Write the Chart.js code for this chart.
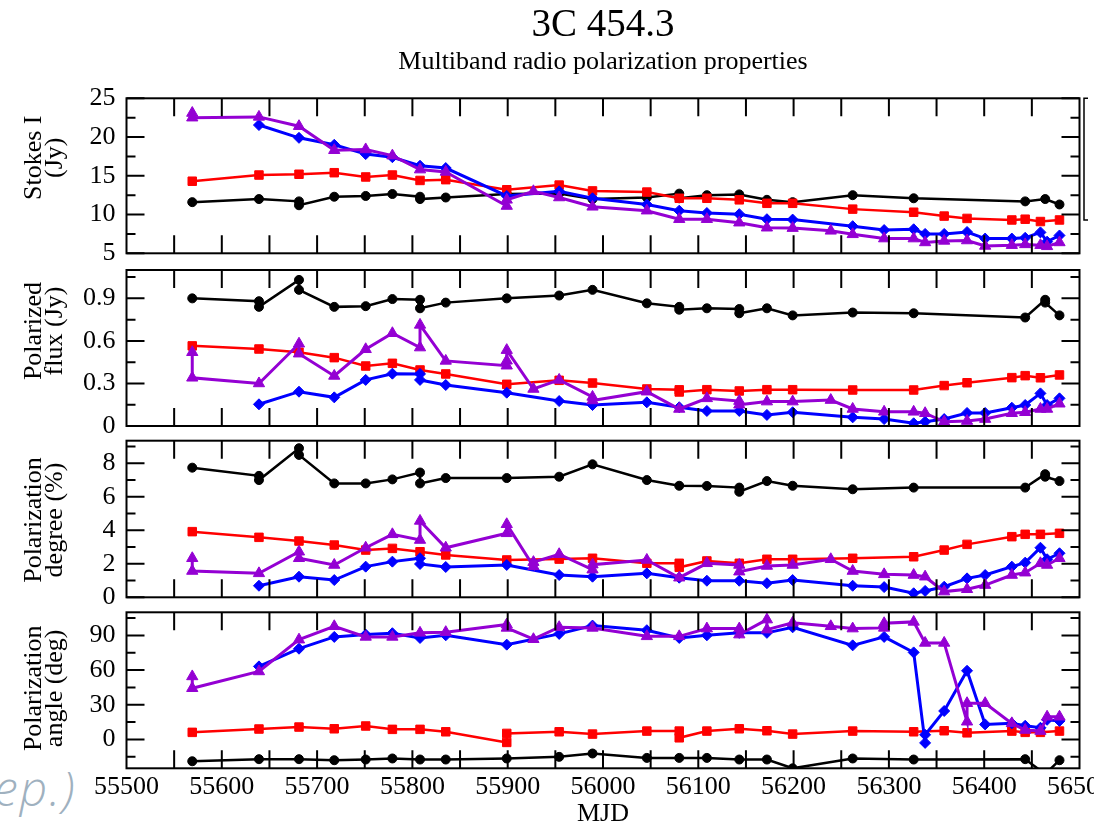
<!DOCTYPE html>
<html>
<head>
<meta charset="utf-8">
<title>3C 454.3 polarization</title>
<script src="https://cdn.jsdelivr.net/npm/chart.js@4.4.0/dist/chart.umd.min.js"></script>
<style>
  html, body { margin: 0; padding: 0; background: #fff; }
  #page { position: relative; width: 1094px; height: 825px; overflow: hidden; background: #fff; }
  #page canvas { position: absolute; left: 0; }
  #note { position: absolute; left: -6px; top: 764px; font: italic 300 48px/1 'Open Sans', sans-serif; letter-spacing: 2px; color: #9fb1bf; }
</style>
</head>
<body>
<div id="page">
  <div id="note">ep.)</div>
  <canvas id="stokes" width="1094" height="290" style="top:0px"></canvas>
  <canvas id="polflux" width="1094" height="216" style="top:240px"></canvas>
  <canvas id="poldeg" width="1094" height="216" style="top:411px"></canvas>
  <canvas id="polang" width="1094" height="243" style="top:582px"></canvas>
</div>
<script>
// *******************  observing epochs (MJD) per band

let mjdBlack = [55569, 55639, 55681, 55718, 55751, 55779, 55808, 55835, 55899, 55954, 55989,
  56046, 56080, 56109, 56143, 56172, 56199, 56262, 56326, 56443, 56464, 56479];
let mjdRed = [55569, 55639, 55681, 55718, 55751, 55779, 55808, 55835, 55899, 55954, 55989,
  56046, 56080, 56109, 56143, 56172, 56199, 56262, 56326, 56358, 56382, 56429, 56443, 56459, 56479];
let mjdBlue = [55639, 55681, 55718, 55751, 55779, 55808, 55835, 55899, 55954, 55989,
  56046, 56080, 56109, 56143, 56172, 56199, 56262, 56295, 56326, 56338, 56358, 56382, 56401,
  56429, 56443, 56459, 56466, 56479];
let mjdViolet = [55569, 55639, 55681, 55718, 55751, 55779, 55808, 55835, 55899, 55927, 55954, 55989,
  56046, 56080, 56109, 56143, 56172, 56199, 56239, 56262, 56295, 56326, 56338, 56358, 56382, 56401,
  56429, 56443, 56459, 56466, 56479];

// *******************  values (an inner array = repeated measurements on the same day)

// Stokes I (Jy)
let stokesBlack = [11.6, 12.0, [11.7, 11.2], 12.3, 12.4, 12.65, [12.3, 12.0], 12.2, 12.65, 12.7, 12.0,
  12.2, [12.7, 12.1], 12.5, 12.6, 11.9, 11.6, 12.5, 12.1, 11.7, 12.0, 11.3];
let stokesRed = [14.3, 15.1, 15.2, 15.4, 14.85, 15.1, 14.4, 14.5, 13.2, 13.8, 13.05,
  12.9, 12.1, 12.1, 11.9, 11.45, 11.45, 10.7, 10.3, 9.8, 9.5, 9.3, 9.4, 9.1, 9.3];
let stokesBlue = [21.55, 19.9, 19.0, 17.8, 17.4, 16.3, 16.0, 12.4, 13.0, 12.1,
  11.3, 10.5, 10.2, 10.05, 9.4, 9.35, 8.5, 8.0, 8.1, 7.5, 7.5, 7.75, 6.9, 6.9, 7.0, 7.7, 6.5, 7.3];
let stokesViolet = [[23.1, 22.5], 22.6, 21.4, 18.3, 18.4, 17.6, 15.8, 15.5, [11.1, 11.9], 13.0, 12.2, 11.0,
  10.5, 9.4, 9.4, 8.95, 8.3, 8.25, 7.9, 7.45, 6.9, 6.9, 6.4, 6.6, 6.65, 5.95, 6.05, 6.15, 6.05, 5.9, 6.4];

// polarized flux (Jy)
let fluxBlack = [0.90, [0.88, 0.84], [1.03, 0.96], 0.84, 0.845, 0.895, [0.89, 0.83], 0.87, 0.90, 0.92, 0.96,
  0.865, [0.84, 0.82], 0.83, [0.825, 0.795], 0.83, 0.78, 0.80, 0.795, 0.765, [0.89, 0.87], 0.78];
let fluxRed = [0.565, 0.543, 0.52, 0.482, 0.423, 0.442, 0.395, 0.367, 0.294, 0.322, 0.303,
  0.261, [0.255, 0.24], 0.256, 0.247, 0.256, 0.256, 0.254, 0.254, 0.285, 0.305, 0.341, 0.355, 0.34, 0.36];
let fluxBlue = [0.153, 0.242, 0.202, 0.325, 0.369, [0.367, 0.325], 0.289, 0.235, 0.176, 0.148,
  0.167, 0.132, 0.106, 0.106, 0.078, 0.097, 0.061, 0.049, 0.019, 0.03, 0.049, 0.092, 0.092,
  0.129, 0.148, 0.23, 0.148, 0.195];
let fluxViolet = [[0.52, 0.34], 0.30, [0.58, 0.51], 0.353, 0.541, 0.654, [0.553, 0.713], 0.459,
  [0.425, 0.46, 0.535], 0.261, 0.325, [0.205, 0.18], 0.242, 0.12, 0.195, [0.176, 0.15], 0.172, 0.172,
  0.183, 0.12, 0.10, 0.10, 0.09, 0.03, 0.035, 0.049, 0.09, 0.097, 0.12, 0.12, 0.157];

// polarization degree (%)
let degBlack = [7.74, [7.25, 7.0], [8.9, 8.5], 6.8, 6.8, 7.04, [7.45, 6.8], 7.12, 7.12, 7.2, 7.94,
  7.0, 6.66, 6.65, [6.55, 6.3], 6.94, 6.66, 6.45, 6.55, 6.55, [7.35, 7.2], 6.94];
let degRed = [3.92, 3.58, 3.36, 3.12, 2.82, 2.92, 2.72, 2.53, 2.23, 2.28, 2.33,
  2.03, [2.03, 1.79], 2.17, 2.03, 2.27, 2.27, 2.33, 2.42, 2.82, 3.16, 3.62, 3.76, 3.76, 3.82];
let degBlue = [0.69, 1.23, 1.03, 1.83, 2.13, [2.33, 1.99], 1.81, 1.93, 1.33, 1.23,
  1.43, 1.17, 0.99, 0.99, 0.84, 1.03, 0.69, 0.61, 0.24, 0.38, 0.63, 1.13, 1.33, 1.83, 2.07, 2.96, 2.27, 2.63];
let degViolet = [[2.33, 1.57], 1.43, [2.72, 2.33], 1.93, 2.96, 3.76, [3.42, 4.56], 2.96, [3.82, 4.36],
  [1.85, 2.1], 2.57, [1.65, 1.95], 2.23, 1.17, 2.03, [1.93, 1.53], 1.87, 1.93, 2.27, 1.57, 1.37, 1.33,
  1.23, 0.34, 0.48, 0.73, 1.33, 1.47, 2.03, 1.93, 2.33];

// polarization angle (deg)
let angBlack = [-18.9, -17.1, -17.1, -18, -17.4, -16.5, -17.4, -17.4, -16.5, -15.1, -12.2,
  -16, -16, -16, -17.4, -17.4, -25, -16.5, -17.4, -17.1, -30, -18];
let angRed = [6.1, 9.0, 10.7, 9.2, 11.6, 8.7, 8.7, 6.6, [-2.6, 5.2], 6.6, 4.6,
  7.2, [7.2, 1.4], 7.2, 9.2, 7.5, 4.6, 7.2, 6.6, 7.5, 5.7, 7.2, 6.1, 6.1, 7.2];
let angBlue = [63.2, 78.5, 88.7, 90.7, 91.9, 87.8, 90.1, 82, 91.3, 98.5,
  94.5, 87.8, 90.1, 92.2, 92.2, 97, 81.4, 88.7, 75.3, [-3, 4], 24.6, 59.4, 13, 13.9, 11.8, 10.1, 17, 16];
let angViolet = [[54.5, 44.3], 58.8, 86.3, 97.9, 88.7, 88.7, 92.2, 92.8, [99.4, 96.5], 86.7, 97.1, 96.5,
  89.2, 89.2, 95.9, [95.9, 90.7], [103.7, 95], 100.9, 97.9, 95.9, [96.5, 100.5], 101.7, 83.5, 83.5,
  [15.3, 31.3], 31.3, 13.9, 8.1, 7.2, 19.6, 19.6];

// *******************  band styles

let bands = [
  {name: 'black', color: '#000000', style: 'circle', radius: 4.5, width: 2.5, mjd: mjdBlack},
  {name: 'red', color: '#ff0000', style: 'rect', radius: 6, width: 2.5, mjd: mjdRed},
  {name: 'blue', color: '#0000ff', style: 'rectRot', radius: 5.5, width: 3, mjd: mjdBlue},
  {name: 'violet', color: '#9400d3', style: 'triangle', radius: 6.5, width: 3, mjd: mjdViolet}
];

let serif = "'Liberation Serif', 'Times New Roman', serif";
Chart.defaults.font.family = serif;
Chart.defaults.color = '#000';

// *******************  helpers

function toPoints(mjd, vals){
  let pts = [];
  for(let i = 0; i < mjd.length; i++){
    let v = vals[i];
    if (Array.isArray(v)){
      v.forEach(function(w){ pts.push({x: mjd[i], y: w}); });
    } else {
      pts.push({x: mjd[i], y: v});
    }
  }
  return pts;
}

// frame with inward ticks on all four sides, plus the rotated y title
let panelFrame = {
  id: 'panelFrame',
  afterDatasetsDraw: function(chart, args, o){
    let a = chart.chartArea;
    let xs = chart.scales.x;
    let ys = chart.scales.y;
    let c = chart.ctx;
    c.save();
    c.strokeStyle = '#000';
    c.lineWidth = 2;
    c.beginPath();
    for(let k = 1; k * o.xStep < xs.max - xs.min; k++){
      let px = xs.getPixelForValue(xs.min + k * o.xStep);
      c.moveTo(px, a.top); c.lineTo(px, a.top + o.tick);
      c.moveTo(px, a.bottom); c.lineTo(px, a.bottom - o.tick);
    }
    let k0 = Math.ceil(ys.min / o.yStep - 1e-6);
    let k1 = Math.floor(ys.max / o.yStep + 1e-6);
    for(let k = k0; k <= k1; k++){
      let py = ys.getPixelForValue(k * o.yStep);
      let len = (k % 2 === 0) ? o.tick : o.tick / 2;
      c.moveTo(a.left, py); c.lineTo(a.left + len, py);
      c.moveTo(a.right, py); c.lineTo(a.right - len, py);
    }
    c.stroke();
    c.strokeRect(a.left, a.top, a.right - a.left, a.bottom - a.top);

    if (o.legendEdge){
      // left edge of the legend box
      c.lineWidth = 1.5;
      c.beginPath();
      c.moveTo(1088, a.top); c.lineTo(1084, a.top); c.lineTo(1084, 220); c.lineTo(1088, 220);
      c.stroke();
    }

    // y title, two rotated lines
    c.fillStyle = '#000';
    c.font = '26px ' + serif;
    c.textAlign = 'center';
    c.textBaseline = 'middle';
    let cy = (a.top + a.bottom) / 2 + o.titleDy;
    o.title.forEach(function(line, i){
      c.save();
      c.translate(34.5 + i * 21, cy);
      c.rotate(-Math.PI / 2);
      c.fillText(line, 0, 0);
      c.restore();
    });
    c.restore();
  }
};

function makePanel(canvasId, p){
  let datasets = bands.map(function(b, i){
    let ds = {
      label: b.name,
      data: toPoints(b.mjd, p.values[i]),
      borderColor: b.color,
      backgroundColor: b.color,
      borderWidth: b.width,
      pointStyle: b.style,
      pointRadius: b.radius,
      pointHoverRadius: b.radius,
      pointBorderWidth: 1,
      tension: 0,
      order: 3 - i
    };
    if (p.clipBottom) ds.clip = {left: 6, right: 6, top: 6, bottom: 0};
    return ds;
  });

  return new Chart(document.getElementById(canvasId), {
    type: 'line',
    data: {datasets: datasets},
    options: {
      responsive: false,
      animation: false,
      devicePixelRatio: 1,
      layout: {padding: {top: p.padTop, bottom: p.padBottom, left: 0, right: 14.5}},
      scales: {
        x: {
          type: 'linear',
          min: 55500,
          max: 56500,
          display: p.showX,
          grid: {display: false, drawTicks: false},
          border: {display: false},
          ticks: {stepSize: 100, autoSkip: false, maxRotation: 0, padding: 5.7,
            font: {size: 26, lineHeight: 1}, callback: function(v){ return String(v); }},
          title: {display: p.showX, text: 'MJD', font: {size: 26, lineHeight: 0.8}, padding: 0},
          afterFit: function(s){
            s.paddingLeft = 0;
            s.paddingRight = 0;
            if (p.showX) s.height = 56.7;
          }
        },
        y: {
          min: p.min,
          max: p.max,
          grid: {display: false, drawTicks: false},
          border: {display: false},
          ticks: {stepSize: p.step, includeBounds: false, padding: 11, font: {size: 26},
            callback: function(v){ return String(Math.round(v * 100) / 100); }},
          afterFit: function(s){
            s.width = 126.5;
            s.paddingTop = 0;
            s.paddingBottom = 0;
          }
        }
      },
      plugins: {
        legend: {display: false},
        tooltip: {enabled: false},
        title: {display: !!p.head, text: '3C 454.3', fullSize: false,
          font: {size: 39, weight: 'normal', lineHeight: 1}, padding: {top: 6, bottom: 2}},
        subtitle: {display: !!p.head, text: 'Multiband radio polarization properties', fullSize: false,
          font: {size: 26, weight: 'normal', lineHeight: 1}, padding: {top: 2.5, bottom: 22.8}},
        panelFrame: {xStep: 50, yStep: p.minor, tick: 18, legendEdge: !!p.head,
          title: p.title, titleDy: p.titleDy}
      }
    },
    plugins: [panelFrame]
  });
}

// *******************  panels

makePanel('stokes', {
  head: true, showX: false, padTop: 0, padBottom: 36.7,
  min: 5, max: 25, step: 5, minor: 2.5,
  title: ['Stokes I', '(Jy)'], titleDy: -18,
  values: [stokesBlack, stokesRed, stokesBlue, stokesViolet]
});

makePanel('polflux', {
  showX: false, padTop: 30, padBottom: 30,
  min: 0, max: 1.1, step: 0.3, minor: 0.15,
  title: ['Polarized', 'flux (Jy)'], titleDy: -17,
  values: [fluxBlack, fluxRed, fluxBlue, fluxViolet]
});

makePanel('poldeg', {
  showX: false, padTop: 29.7, padBottom: 29.7,
  min: 0, max: 9.35, step: 2, minor: 1,
  title: ['Polarization', 'degree (%)'], titleDy: 1,
  values: [degBlack, degRed, degBlue, degViolet]
});

makePanel('polang', {
  showX: true, clipBottom: true, padTop: 30.3, padBottom: 0,
  min: -25, max: 110, step: 30, minor: 15,
  title: ['Polarization', 'angle (deg)'], titleDy: -2,
  values: [angBlack, angRed, angBlue, angViolet]
});
</script>
</body>
</html>
